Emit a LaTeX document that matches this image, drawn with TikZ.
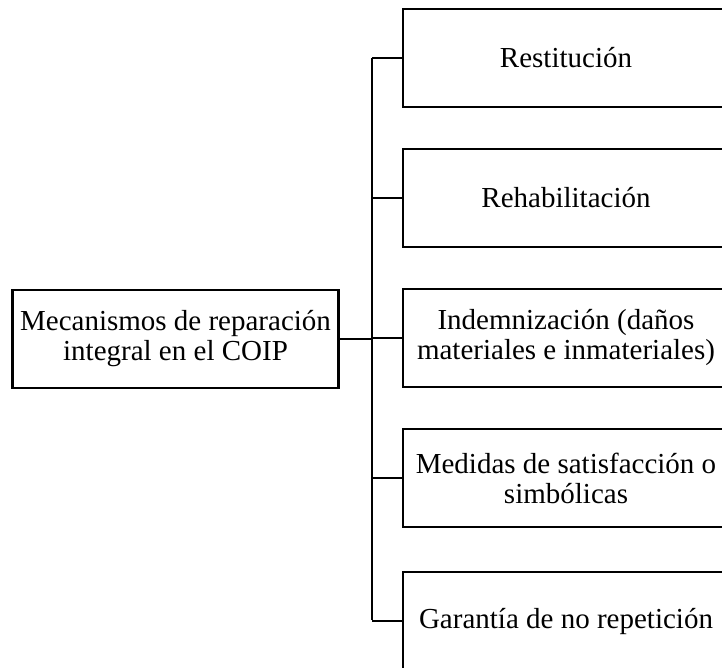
\documentclass[tikz,border=0pt]{standalone}
\usepackage{fontspec}
\setmainfont{Liberation Serif}
\usetikzlibrary{positioning}

\tikzset{
  box/.style={draw, line width=1.1pt, rectangle, align=center,
    minimum width=163pt, minimum height=49pt, inner sep=2pt,
    font=\fontsize{14.5}{15}\selectfont},
  link/.style={line width=1.1pt}
}

\begin{document}
\begin{tikzpicture}[x=0.5pt,y=-0.5pt]
\useasboundingbox (0,0) rectangle (722,668);
\clip (0,0) rectangle (722,668);
\coordinate (T) at (372,58);
\coordinate (B) at (372,620);

% The root
\node[box] (mec) at (175.5,339) {Mecanismos de reparación\\integral en el COIP};

% The branches
\node[box] (r1) at (566, 58) {Restitución};
\node[box] (r2) at (566,198) {Rehabilitación};
\node[box] (r3) at (566,338) {Indemnización (daños\\materiales e inmateriales)};
\node[box] (r4) at (566,478) {Medidas de satisfacción o\\simbólicas};
\node[box] (r5) at (566,621) {Garantía de no repetición};

% The connectors
\draw[link] (mec.east) -- (mec.east -| T);
\draw[link] (T) -- (B);
\foreach \i in {1,...,5} {
  \draw[link] (r\i.west -| T) -- (r\i.west);
}
\end{tikzpicture}
\end{document}
